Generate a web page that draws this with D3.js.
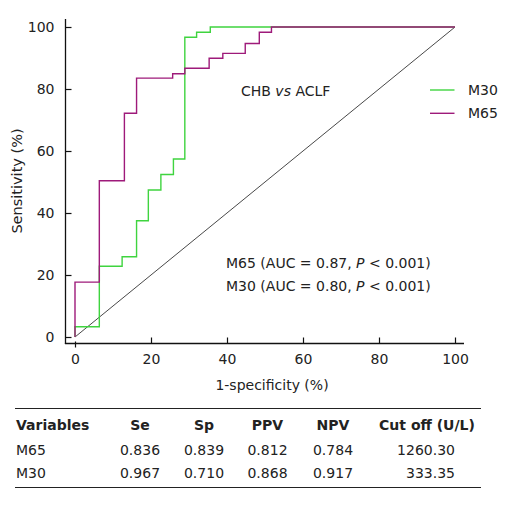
<!DOCTYPE html>
<html><head><meta charset="utf-8">
<script src="https://cdn.jsdelivr.net/npm/d3@7"></script>
<style>
html,body{margin:0;padding:0;background:#fff;}
svg text{font-family:"DejaVu Sans",Verdana,sans-serif;fill:#222;}
</style></head>
<body><svg id="c" width="512" height="510"></svg>
<script>
// ROC data (1-specificity %, sensitivity %)
const m30FPR = [0, 0, 6.4, 12.4, 16.2, 19.3, 22.6, 25.9, 28.9, 32.0, 35.6, 100];
const m30TPR = [0, 3.3, 22.8, 25.9, 37.5, 47.4, 52.4, 57.4, 96.7, 98.3, 100, 100];
const m65FPR = [0, 0, 6.4, 13.0, 16.2, 25.7, 28.9, 35.3, 38.9, 44.8, 48.5, 51.7, 100];
const m65TPR = [0, 17.7, 50.4, 72.2, 83.5, 84.9, 86.7, 89.9, 91.5, 94.7, 98.3, 100, 100];
const xTicks = [0, 20, 40, 60, 80, 100];
const yTicks = [0, 20, 40, 60, 80, 100];
const seriesNames = ["M30", "M65"];
const seriesColors = ["#3fd43f", "#9e1a7a"];
const aucLines = [
  ["M65 (AUC = 0.87, ", "P", " < 0.001)"],
  ["M30 (AUC = 0.80, ", "P", " < 0.001)"]
];
const tableHeader = ["Variables", "Se", "Sp", "PPV", "NPV", "Cut off (U/L)"];
const tableRows = [
  ["M65", "0.836", "0.839", "0.812", "0.784", "1260.30"],
  ["M30", "0.967", "0.710", "0.868", "0.917", "333.35"]
];

const svg = d3.select("#c");
const x = d3.scaleLinear().domain([0, 100]).range([75, 455]);
const y = d3.scaleLinear().domain([0, 100]).range([337, 27]);
const axX = 65.5, axY = 343.5;

// axes
const gy = svg.append("g").attr("transform", `translate(${axX},0)`)
  .call(d3.axisLeft(y).tickValues(yTicks).tickSize(-6).tickPadding(11).tickSizeOuter(0));
gy.select(".domain").remove();
gy.selectAll("text").style("font-size", "14px").attr("fill", "#222");
gy.selectAll("line").attr("stroke", "#111").attr("stroke-width", 1.2);

const gx = svg.append("g").attr("transform", `translate(0,${axY})`)
  .call(d3.axisBottom(x).tickValues(xTicks).tickSize(-6).tickPadding(10.5).tickSizeOuter(0));
gx.select(".domain").remove();
gx.selectAll("text").style("font-size", "14px").attr("fill", "#222");
gx.selectAll("line").attr("stroke", "#111").attr("stroke-width", 1.2);
gx.selectAll(".tick").filter(d => d === 0).select("line").attr("y1", -2).attr("y2", 4);

svg.append("line").attr("x1", axX).attr("x2", axX).attr("y1", 19).attr("y2", axY + 0.6)
  .attr("stroke", "#111").attr("stroke-width", 1.3);
svg.append("line").attr("x1", axX - 0.6).attr("x2", 464).attr("y1", axY).attr("y2", axY)
  .attr("stroke", "#111").attr("stroke-width", 1.3);

// axis titles
svg.append("text").attr("x", 272).attr("y", 390).attr("text-anchor", "middle")
  .style("font-size", "14px").text("1-specificity (%)");
svg.append("text").attr("transform", "translate(22,181) rotate(-90)").attr("text-anchor", "middle")
  .style("font-size", "14.5px").text("Sensitivity (%)");

// diagonal
svg.append("line").attr("x1", x(0)).attr("y1", y(0)).attr("x2", x(100)).attr("y2", y(100))
  .attr("stroke", "#333").attr("stroke-width", 0.9);

// curves
const line = d3.line().x(d => x(d[0])).y(d => y(d[1])).curve(d3.curveStepAfter);
const series = [d3.zip(m30FPR, m30TPR), d3.zip(m65FPR, m65TPR)];
series.forEach((s, i) => {
  svg.append("path").attr("d", line(s)).attr("fill", "none")
    .attr("stroke", seriesColors[i]).attr("stroke-width", 1.4);
});

// title inside
const t = svg.append("text").attr("x", 241).attr("y", 96).style("font-size", "14px");
t.append("tspan").text("CHB ");
t.append("tspan").style("font-style", "italic").text("vs");
t.append("tspan").text(" ACLF");

// legend
seriesNames.forEach((n, i) => {
  const ly = 90 + i * 23.3;
  svg.append("line").attr("x1", 430).attr("x2", 454.5).attr("y1", ly).attr("y2", ly)
    .attr("stroke", seriesColors[i]).attr("stroke-width", 1.4);
  svg.append("text").attr("x", 468).attr("y", ly + 5).style("font-size", "14px").text(n);
});

// AUC text
aucLines.forEach((parts, i) => {
  const tt = svg.append("text").attr("x", 226).attr("y", 268 + i * 22.7).style("font-size", "14px");
  tt.append("tspan").text(parts[0]);
  tt.append("tspan").style("font-style", "italic").text(parts[1]);
  tt.append("tspan").text(parts[2]);
});

// table
const colX = [16, 140, 204, 267.5, 333, 427];
svg.append("line").attr("x1", 15).attr("x2", 481).attr("y1", 408.5).attr("y2", 408.5)
  .attr("stroke", "#222").attr("stroke-width", 1.2);
svg.append("line").attr("x1", 15).attr("x2", 481).attr("y1", 487.5).attr("y2", 487.5)
  .attr("stroke", "#222").attr("stroke-width", 1.2);
tableHeader.forEach((h, j) => {
  svg.append("text").attr("x", colX[j]).attr("y", 430)
    .attr("text-anchor", j === 0 ? "start" : "middle")
    .style("font-size", "14px").style("font-weight", "bold").text(h);
});
tableRows.forEach((r, i) => {
  const ry = 455 + i * 22.7;
  r.forEach((v, j) => {
    const tx = svg.append("text").attr("y", ry).style("font-size", "14px").text(v);
    if (j === 0) tx.attr("x", colX[0]).attr("text-anchor", "start");
    else if (j === 5) tx.attr("x", 455).attr("text-anchor", "end");
    else tx.attr("x", colX[j]).attr("text-anchor", "middle");
  });
});
</script></body></html>
